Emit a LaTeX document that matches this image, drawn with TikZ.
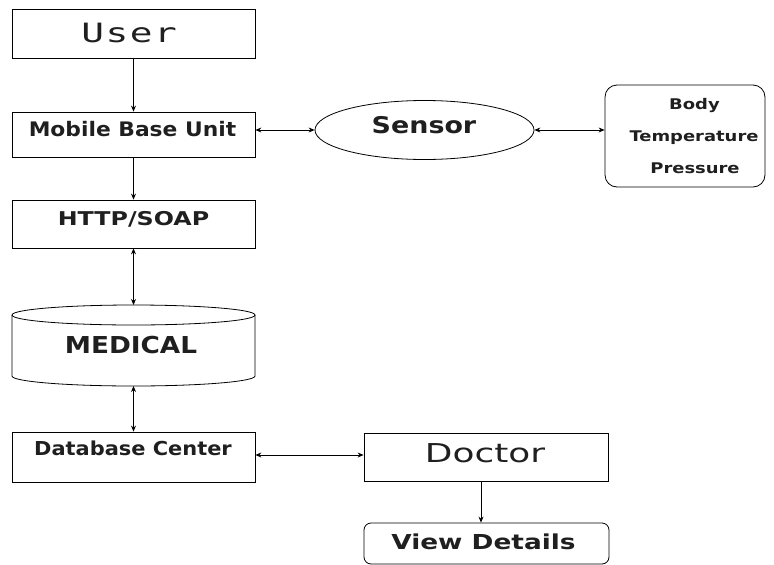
\documentclass[tikz,border=0pt]{standalone}
\usepackage{graphicx}
\usepackage{fontspec}
\setmainfont{DejaVu Sans}
\newfontfamily\monofam[LetterSpace=4]{DejaVu Sans Mono}
\usetikzlibrary{shapes.geometric,arrows.meta}
% wide label: font size, horizontal stretch, text
\newcommand{\widelabel}[3]{\fontsize{#1}{#1}\selectfont\scalebox{#2}[1]{#3}}
\begin{document}
\begin{tikzpicture}[x=1pt,y=-1pt,
  box/.style={draw,line width=0.8pt,rectangle,inner sep=0pt},
  lbl/.style={anchor=base,inner sep=0pt,text=black!88},
  link/.style={line width=0.8pt,-{Stealth[length=6pt,width=5pt]}},
  dlink/.style={line width=0.8pt,{Stealth[length=6pt,width=5pt]}-{Stealth[length=6pt,width=5pt]}}]
\useasboundingbox (0,0) rectangle (774,565);

% left column
\node (user) [box,minimum width=243pt,minimum height=49pt] at (133.5,33.5) {};
\node[lbl] (usert) at (129,42.7) {\monofam\widelabel{26.6}{1.42}{User}};

\node (mbu) [box,minimum width=243pt,minimum height=45pt] at (133.5,134.5) {};
\node[lbl] (mbut) at (132.5,136) {\bfseries\widelabel{20}{1.09}{Mobile Base Unit}};

\node (http) [box,minimum width=243pt,minimum height=48pt] at (133.5,224) {};
\node[lbl] (httpt) at (133.5,225.3) {\bfseries\widelabel{19}{1.25}{HTTP/SOAP}};

% cylinder
\coordinate (medtop) at (133.5,305);
\coordinate (medbot) at (133.5,386);
\draw[line width=0.8pt] (12,315) -- (12,376) arc[start angle=180,end angle=0,x radius=121.5,y radius=10] -- (255,315);
\draw[line width=0.8pt] (133.5,315) ellipse[x radius=121.5,y radius=10];
\node[lbl] (medt) at (131,353) {\bfseries\widelabel{23.3}{1.13}{MEDICAL}};

\node (db) [box,minimum width=243pt,minimum height=50pt] at (133.5,457) {};
\node[lbl] (dbt) at (133,455) {\bfseries\widelabel{19.2}{1.09}{Database Center}};

% sensor and readings
\node (sensor) [draw,line width=0.8pt,ellipse,minimum width=219pt,minimum height=59pt,inner sep=0pt] at (424.5,130) {};
\node[lbl] (sensort) at (424,133.3) {\bfseries\widelabel{23}{1.17}{Sensor}};

\node (body) [draw,line width=0.8pt,rectangle,rounded corners=12pt,minimum width=160pt,minimum height=102pt] at (685,136) {};
\node[lbl] at (694.5,109.7) {\bfseries\widelabel{14.7}{1.22}{Body}};
\node[lbl] at (694,141.3) {\bfseries\widelabel{14.7}{1.22}{Temperature}};
\node[lbl] at (695,173) {\bfseries\widelabel{14.7}{1.22}{Pressure}};

% doctor side
\node (doctor) [box,minimum width=244pt,minimum height=48pt] at (486,457) {};
\node[lbl] (doctort) at (485,462) {\widelabel{26}{1.38}{Doctor}};

\node (view) [draw,line width=0.8pt,rectangle,rounded corners=7pt,minimum width=245pt,minimum height=41pt] at (486.5,543.5) {};
\node[lbl] (viewt) at (483.5,549) {\bfseries\widelabel{20.6}{1.28}{View Details}};

% connectors
\coordinate (docout) at (481,481);
\draw[link] (user.south) -- (mbu.north);
\draw[link] (mbu.south) -- (http.north);
\draw[dlink] (http.south) -- (medtop);
\draw[dlink] (medbot) -- (db.north);
\draw[dlink] (mbu.east |- sensor.west) -- (sensor.west);
\draw[dlink] (sensor.east) -- (body.west |- sensor.east);
\draw[dlink] (db.east |- 0,455) -- (doctor.west |- 0,455);
\draw[link] (docout) -- (view.north -| docout);
\end{tikzpicture}
\end{document}
